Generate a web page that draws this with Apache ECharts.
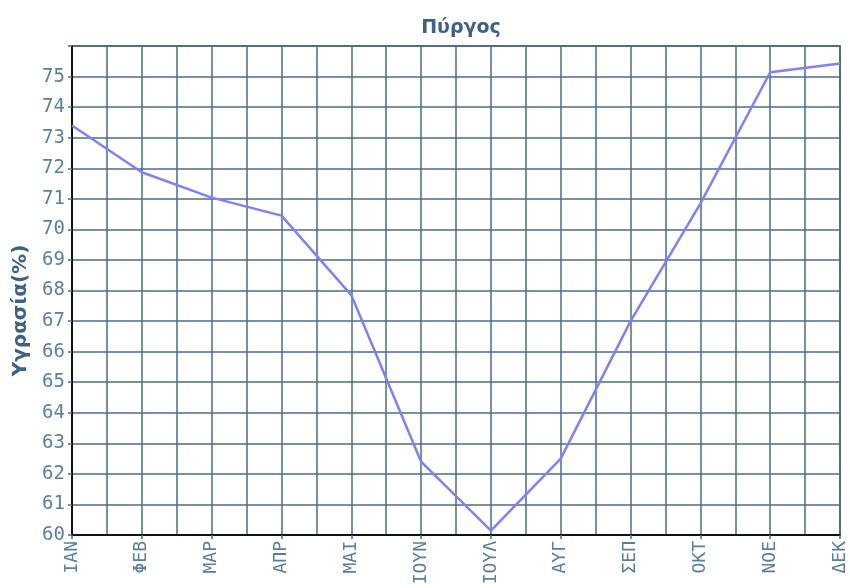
<!DOCTYPE html>
<html>
<head>
<meta charset="utf-8">
<script src="https://cdn.jsdelivr.net/npm/echarts@6/dist/echarts.min.js"></script>
<style>html,body{margin:0;padding:0;background:#fff}#c{width:850px;height:588px}</style>
</head>
<body>
<div id="c"></div>
<script>
var months = ['ΙΑΝ','ΦΕΒ','ΜΑΡ','ΑΠΡ','ΜΑΙ','ΙΟΥΝ','ΙΟΥΛ','ΑΥΓ','ΣΕΠ','ΟΚΤ','ΝΟΕ','ΔΕΚ'];
var humidity = [73.4, 71.87, 71.04, 70.45, 67.85, 62.4, 60.14, 62.5, 67.0, 70.84, 75.14, 75.43];
var chartTitle = 'Πύργος';
var yTitle = 'Υγρασία(%)';

var gridColor = '#4a6c8e';
var labelColor = '#5b7fa0';
var titleColor = '#3d6189';
var labelFont = 'DejaVu Sans Mono';

var chart = echarts.init(document.getElementById('c'), null, {renderer: 'canvas'});
chart.setOption({
  animation: false,
  backgroundColor: '#fff',
  title: {
    text: chartTitle,
    left: 456, top: 14, textAlign: 'center',
    textStyle: {color: titleColor, fontFamily: 'DejaVu Sans', fontWeight: 'bold', fontSize: 19}
  },
  grid: {left: 72, right: 10, top: 46, bottom: 53, show: true, borderColor: '#444', borderWidth: 1.5},
  xAxis: {
    type: 'value', min: 0, max: months.length - 1, interval: 1,
    axisLine: {lineStyle: {color: '#111', width: 2}},
    axisTick: {show: true, length: 4, lineStyle: {color: gridColor, width: 1.5}},
    axisLabel: {
      rotate: 90, color: labelColor, fontFamily: labelFont, fontSize: 18, margin: 6,
      formatter: function (v) { return Number.isInteger(v) ? months[v] : ''; }
    },
    splitLine: {show: true, lineStyle: {color: gridColor, width: 1.5}},
    minorTick: {show: false, splitNumber: 2},
    minorSplitLine: {show: true, lineStyle: {color: gridColor, width: 1.5}}
  },
  yAxis: {
    type: 'value', min: 60, max: 76, interval: 1,
    name: yTitle, nameLocation: 'middle', nameGap: 40, nameRotate: 90,
    nameTextStyle: {color: titleColor, fontFamily: 'DejaVu Sans', fontWeight: 'bold', fontSize: 20, padding: [0, 0, 0, -40]},
    axisLine: {lineStyle: {color: '#111', width: 2}},
    axisTick: {show: true, length: 4, lineStyle: {color: gridColor, width: 1.5}},
    axisLabel: {
      color: labelColor, fontFamily: labelFont, fontSize: 19, margin: 7,
      formatter: function (v) { return v === 76 ? '' : String(v); }
    },
    splitLine: {show: true, lineStyle: {color: gridColor, width: 1.5}}
  },
  series: [{
    type: 'line',
    data: humidity.map(function (v, i) { return [i, v]; }),
    showSymbol: false,
    lineStyle: {color: '#8080ff', width: 2.5},
    z: 5
  }]
});
</script>
</body>
</html>
